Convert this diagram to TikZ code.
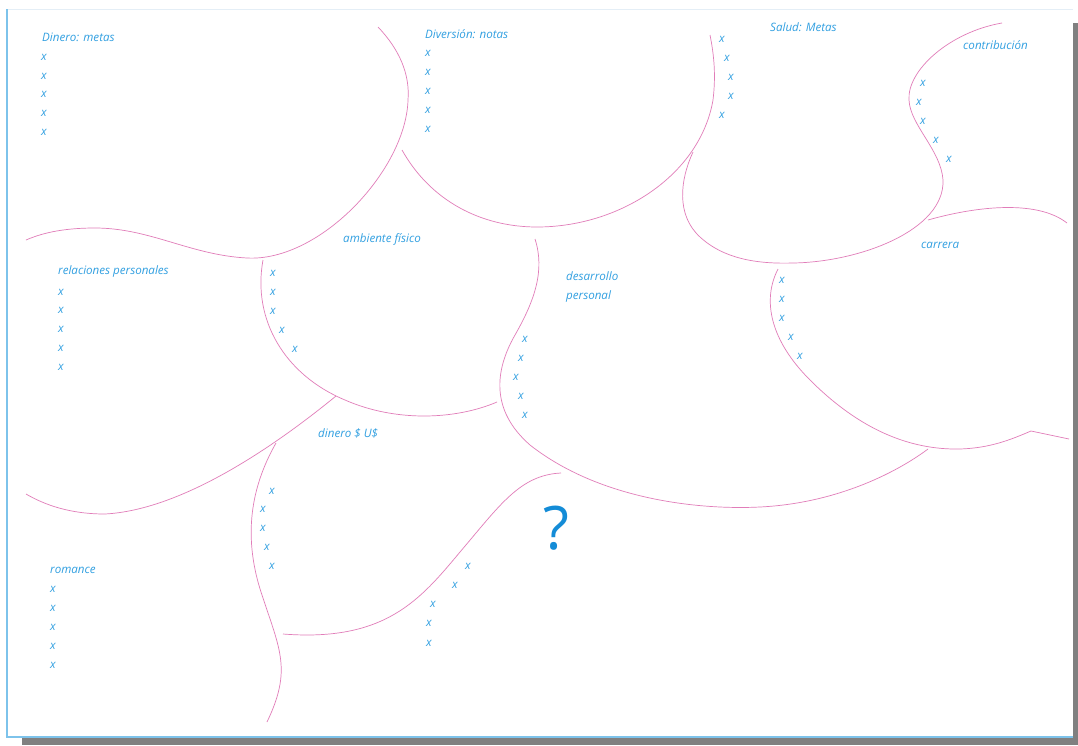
\documentclass[tikz,border=0pt]{standalone}
\usepackage{fontspec}
\setmainfont{Open Sans}
\definecolor{inkblue}{RGB}{50,160,225}
\definecolor{qblue}{RGB}{20,140,215}
\definecolor{linepink}{RGB}{225,125,185}
\definecolor{pageblue}{RGB}{125,195,235}
\definecolor{pagefaint}{RGB}{228,238,246}
\definecolor{shadowgray}{RGB}{128,128,128}
\begin{document}
\begin{tikzpicture}[x=1pt,y=-1pt,
  lbl/.style={anchor=west, inner sep=0pt, text=inkblue, font=\itshape\fontsize{11.6}{13}\selectfont},
  xm/.style={lbl, anchor=center},
  edge/.style={draw=linepink, line width=0.7pt}]
\useasboundingbox (0,0) rectangle (1078,745);

% page and its shadow
\fill[shadowgray] (22,23) rectangle (1078,745);
\fill[white] (7,9) rectangle (1073,737);
\draw[pagefaint] (7,9) -- (1073,9);
\draw[pageblue, line width=1.2pt] (7,9) -- (7,737) -- (1073,737);

% borders between the fields
\draw[edge] (378,27) .. controls (400,50) and (410,75) .. (408,100)
  .. controls (406,170) and (320,262) .. (247,258)
  .. controls (190,255) and (150,228) .. (95,228)
  .. controls (60,228) and (40,234) .. (26,240);
\draw[edge] (402,150) .. controls (430,200) and (480,227) .. (537,227)
  .. controls (620,227) and (700,175) .. (713,100)
  .. controls (716,75) and (714,55) .. (710,35);
\draw[edge] (693,152) .. controls (680,180) and (676,215) .. (700,237)
  .. controls (725,260) and (760,264) .. (793,263)
  .. controls (860,262) and (945,230) .. (943,180)
  .. controls (941,150) and (910,125) .. (909,100)
  .. controls (907,70) and (950,32) .. (1002,23);
\draw[edge] (928,220) .. controls (970,208) and (1035,198) .. (1067,223);
\draw[edge] (263,260) .. controls (252,320) and (285,375) .. (345,400)
  .. controls (395,422) and (455,420) .. (497,402);
\draw[edge] (535,239) .. controls (545,270) and (535,300) .. (515,335)
  .. controls (495,370) and (490,410) .. (530,445)
  .. controls (600,500) and (700,510) .. (760,507)
  .. controls (840,503) and (900,470) .. (928,449);
\draw[edge] (778,269) .. controls (762,300) and (770,340) .. (810,380)
  .. controls (860,430) and (910,450) .. (960,449)
  .. controls (990,448) and (1010,440) .. (1031,431) -- (1069,439);
\draw[edge] (336,396) .. controls (270,450) and (180,510) .. (105,514)
  .. controls (70,514) and (45,505) .. (26,494);
\draw[edge] (276,443) .. controls (255,480) and (240,530) .. (262,595)
  .. controls (280,650) and (292,670) .. (267,722);
\draw[edge] (561,473) .. controls (520,475) and (500,505) .. (460,552)
  .. controls (420,600) and (385,642) .. (283,634);

% titles
\node[lbl] (dinero) at (42,37) {Dinero: metas};
\node[lbl] (diversion) at (425,34) {Diversión: notas};
\node[lbl] (salud) at (770,27) {Salud: Metas};
\node[lbl] (contrib) at (963,45) {contribución};
\node[lbl] (carrera) at (921,245) {carrera};
\node[lbl] (ambiente) at (343,239) {ambiente físico};
\node[lbl] (desarrollo) at (566,276) {desarrollo};
\node[lbl] (personal) at (566,296) {personal};
\node[lbl] (relaciones) at (58,271) {relaciones personales};
\node[lbl] (dineroUS) at (318,433) {dinero \$ U\$};
\node[lbl] (romance) at (50,570) {romance};
\node[text=qblue, font=\fontsize{60}{64}\selectfont, inner sep=0pt] (pregunta) at (556,528) {?};

% lists
\foreach \y [count=\i] in {57,76,94,113,132} \node[xm] (dm\i) at (44,\y) {x};
\foreach \y [count=\i] in {53,72,91,110,129} \node[xm] (dv\i) at (428,\y) {x};
\foreach \x/\y [count=\i] in {722/39,727/58,731/77,731/96,722/115} \node[xm] (sa\i) at (\x,\y) {x};
\foreach \x/\y [count=\i] in {923/83,919/102,923/121,936/140,949/159} \node[xm] (co\i) at (\x,\y) {x};
\foreach \x/\y [count=\i] in {273/273,273/292,273/311,282/330,295/349} \node[xm] (am\i) at (\x,\y) {x};
\foreach \x/\y [count=\i] in {525/339,521/358,516/377,521/396,525/415} \node[xm] (de\i) at (\x,\y) {x};
\foreach \x/\y [count=\i] in {782/280,782/299,782/318,791/337,800/356} \node[xm] (ca\i) at (\x,\y) {x};
\foreach \y [count=\i] in {292,310,329,348,367} \node[xm] (re\i) at (61,\y) {x};
\foreach \x/\y [count=\i] in {272/491,263/509,263/528,267/547,272/566} \node[xm] (du\i) at (\x,\y) {x};
\foreach \y [count=\i] in {589,608,627,646,665} \node[xm] (ro\i) at (53,\y) {x};
\foreach \x/\y [count=\i] in {468/566,455/585,433/604,429/623,429/643} \node[xm] (pq\i) at (\x,\y) {x};
\end{tikzpicture}
\end{document}
